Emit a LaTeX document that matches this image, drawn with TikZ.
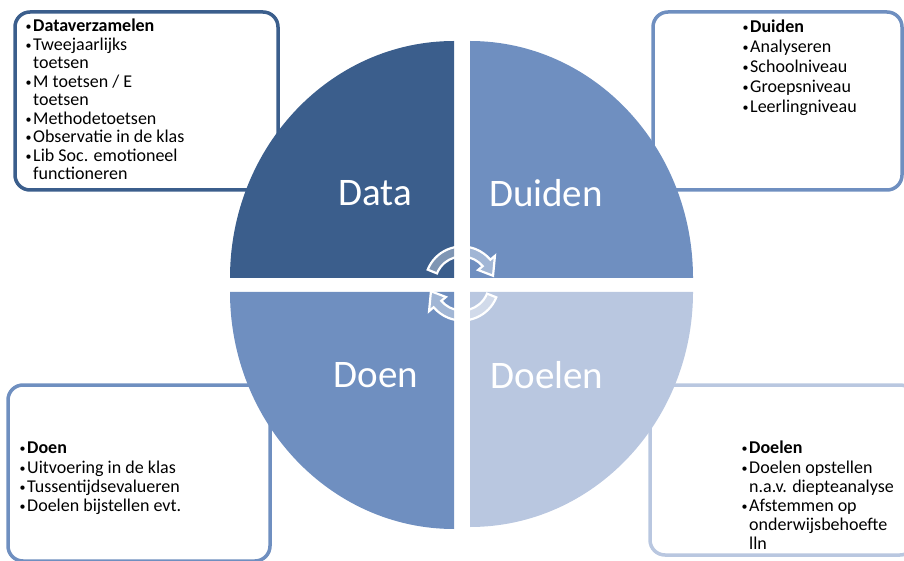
\documentclass[tikz,border=0pt]{standalone}
\usepackage{fontspec}
\setmainfont{Carlito}
\usepackage{tikz}
\usetikzlibrary{positioning}
\definecolor{dark}{HTML}{3B5E8C}
\definecolor{mid}{HTML}{6F8FC0}
\definecolor{light}{HTML}{B9C7E0}
\newcommand{\itm}[1]{\makebox[9pt][l]{\hspace{1.5pt}\raisebox{1pt}{\fontsize{12}{12}\selectfont\textbullet}}#1}
\newcommand{\cnt}[1]{\hspace*{9pt}#1}

\begin{document}
\begin{tikzpicture}[x=1pt,y=1pt,
	infobox/.style={draw, line width=3.5pt, rounded corners=15pt, fill=white, inner sep=0pt},
	infotext/.style={anchor=north west, align=left, inner sep=0pt, text=black},
	quarter/.style={text=white, font=\fontsize{39}{39}\selectfont},
	cycle arrow/.style={draw=white, line width=2.2pt, fill=white, fill opacity=0.35}]
	\useasboundingbox (0,0) rectangle (904,560);
	\clip (0,0) rectangle (904,560);
	% boxes behind the circle
	\node (boxData) at (146.5,459) [infobox, draw=dark, minimum width=263pt, minimum height=178pt] {};
	\node (boxDuiden) at (777.5,459) [infobox, draw=mid, minimum width=249pt, minimum height=178pt] {};
	\node (boxDoen) at (139,87) [infobox, draw=mid, minimum width=262pt, minimum height=176pt] {};
	\node (boxDoelen) at (782.5,90) [infobox, draw=light, minimum width=265pt, minimum height=170pt] {};
	\node (txtData) at (24,541) [infotext, font=\fontsize{18}{18.5}\selectfont]
		{\itm{\textbf{Dataverzamelen}}\\ \itm{Tweejaarlijks}\\ \cnt{toetsen}\\ \itm{M toetsen / E}\\ \cnt{toetsen}\\
		 \itm{Methodetoetsen}\\ \itm{Observatie in de klas}\\ \itm{Lib Soc. emotioneel}\\ \cnt{functioneren}};
	\node (txtDuiden) at (741,540) [infotext, font=\fontsize{18}{20}\selectfont]
		{\itm{\textbf{Duiden}}\\ \itm{Analyseren}\\ \itm{Schoolniveau}\\ \itm{Groepsniveau}\\ \itm{Leerlingniveau}};
	\node (txtDoen) at (18,118) [infotext, font=\fontsize{18}{19.3}\selectfont]
		{\itm{\textbf{Doen}}\\ \itm{Uitvoering in de klas}\\ \itm{Tussentijdsevalueren}\\ \itm{Doelen bijstellen evt.}};
	\node (txtDoelen) at (740,119) [infotext, font=\fontsize{18}{19.2}\selectfont]
		{\itm{\textbf{Doelen}}\\ \itm{Doelen opstellen}\\ \cnt{n.a.v. diepteanalyse}\\ \itm{Afstemmen op}\\ \cnt{onderwijsbehoefte}\\ \cnt{lln}};
	% the four quarters
	\fill [dark] (454,282) -- (230,282) arc[start angle=180, end angle=90, x radius=224, y radius=237] -- cycle;
	\fill [mid] (470,282) -- (470,519) arc[start angle=90, end angle=0, x radius=223, y radius=237] -- cycle;
	\fill [mid] (454,268) -- (230,268) arc[start angle=180, end angle=270, x radius=224, y radius=237] -- cycle;
	\fill [light] (470,268) -- (693,268) arc[start angle=0, end angle=-90, x radius=223, y radius=235] -- cycle;
	\node (data) at (375,367) [quarter] {Data};
	\node (duiden) at (546,367) [quarter] {Duiden};
	\node (doen) at (376,185) [quarter] {Doen};
	\node (doelen) at (547,185) [quarter] {Doelen};
	\foreach \r in {0,180}
		\draw [cycle arrow, shift={(462,276.5)}, rotate=\r]
			(158:37) arc[start angle=158, end angle=40, radius=37] -- (40:43) -- (14:32) -- (40:21)
			-- (40:27) arc[start angle=40, end angle=158, radius=27] -- cycle;
\end{tikzpicture}
\end{document}
